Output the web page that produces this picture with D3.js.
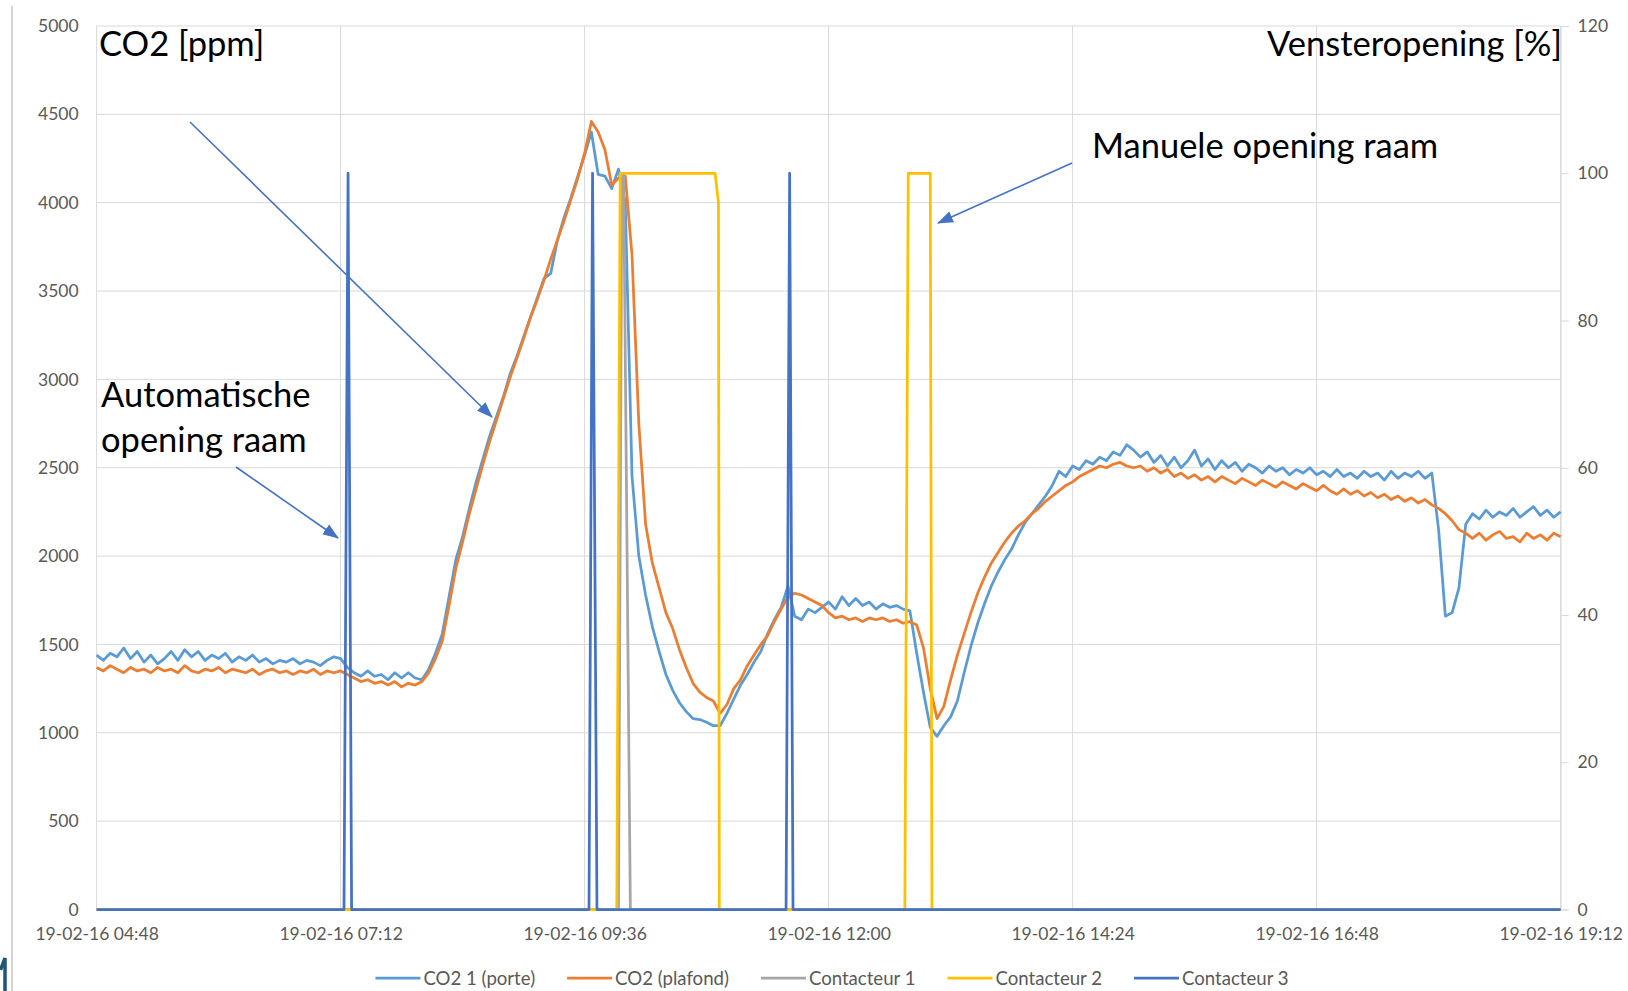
<!DOCTYPE html>
<html>
<head>
<meta charset="utf-8">
<script src="https://cdn.jsdelivr.net/npm/d3@7"></script>
<style>
  body { margin: 0; background: #fff; }
  svg { display: block; }
  text { font-family: Lato, "Open Sans", sans-serif; }
</style>
</head>
<body>
<svg id="chart"></svg>
<script>
// Logger samples, one every 4 minutes from 19-02-16 04:48.
let startTime = new Date(2016, 1, 19, 4, 48);
let sampleStepMin = 4;

// CO2 1 (porte), ppm
let co2Porte = [
    1440, 1410, 1450, 1430, 1480, 1420, 1460, 1400, 1440, 1390,
    1420, 1460, 1410, 1470, 1430, 1460, 1410, 1440, 1420, 1450,
    1400, 1430, 1410, 1440, 1400, 1420, 1390, 1410, 1400, 1420,
    1390, 1410, 1400, 1380, 1410, 1430, 1420, 1370, 1340, 1320,
    1350, 1320, 1330, 1300, 1340, 1310, 1340, 1310, 1300, 1360,
    1450, 1560, 1770, 1980, 2110, 2270, 2420, 2550, 2680, 2790,
    2900, 3030, 3130, 3240, 3350, 3460, 3570, 3600, 3790, 3920,
    4030, 4150, 4270, 4400, 4160, 4150, 4080, 4190, 4000, 2450,
    2000, 1780, 1600, 1460, 1330, 1240, 1170, 1120, 1080, 1075,
    1060, 1040, 1040, 1110, 1190, 1270, 1330, 1400, 1460, 1560,
    1640, 1710, 1830, 1660, 1640, 1700, 1680, 1710, 1740, 1700,
    1770, 1720, 1760, 1720, 1740, 1700, 1730, 1710, 1720, 1700,
    1690, 1450, 1230, 1030, 980, 1040, 1090, 1180, 1340, 1490,
    1620, 1730, 1830, 1910, 1980, 2040, 2120, 2190, 2240, 2290,
    2340, 2400, 2480, 2450, 2510, 2490, 2540, 2520, 2560, 2540,
    2590, 2570, 2630, 2600, 2560, 2590, 2530, 2570, 2510, 2560,
    2500, 2540, 2600, 2510, 2550, 2490, 2540, 2500, 2530, 2480,
    2520, 2500, 2470, 2510, 2480, 2500, 2460, 2490, 2470, 2500,
    2460, 2480, 2450, 2490, 2450, 2470, 2440, 2480, 2450, 2470,
    2430, 2480, 2440, 2470, 2450, 2480, 2440, 2470, 2150, 1660,
    1680, 1820, 2180, 2240, 2210, 2260, 2220, 2250, 2230, 2270,
    2220, 2250, 2280, 2230, 2260, 2220, 2250
];

// CO2 (plafond), ppm
let co2Plafond = [
    1370, 1350, 1380, 1360, 1340, 1370, 1350, 1360, 1340, 1370,
    1350, 1360, 1340, 1380, 1350, 1340, 1360, 1350, 1370, 1340,
    1360, 1350, 1340, 1360, 1330, 1350, 1360, 1340, 1350, 1330,
    1350, 1340, 1360, 1330, 1350, 1340, 1350, 1330, 1310, 1290,
    1300, 1280, 1290, 1270, 1290, 1260, 1280, 1270, 1290, 1340,
    1420, 1520, 1720, 1930, 2080, 2240, 2380, 2520, 2650, 2770,
    2890, 3010, 3120, 3230, 3350, 3450, 3560, 3680, 3790, 3900,
    4020, 4140, 4280, 4460, 4400, 4300, 4100, 4140, 4150, 3700,
    2750, 2180, 1960, 1820, 1680, 1590, 1470, 1370, 1280, 1230,
    1200, 1180, 1110, 1160, 1250, 1300, 1380, 1440, 1500, 1550,
    1630, 1700, 1770, 1790, 1780, 1760, 1740, 1720, 1680, 1650,
    1660, 1640, 1650, 1630, 1650, 1640, 1650, 1630, 1640, 1620,
    1630, 1610, 1480, 1250, 1080, 1150, 1300, 1440, 1560, 1680,
    1790, 1880, 1960, 2020, 2080, 2130, 2170, 2200, 2240, 2270,
    2310, 2340, 2370, 2400, 2420, 2450, 2470, 2490, 2510, 2500,
    2520, 2530, 2510, 2500, 2510, 2480, 2500, 2470, 2490, 2450,
    2470, 2440, 2460, 2430, 2450, 2420, 2450, 2430, 2410, 2440,
    2420, 2400, 2430, 2410, 2390, 2420, 2400, 2380, 2410, 2390,
    2370, 2400, 2370, 2350, 2380, 2350, 2370, 2340, 2360, 2330,
    2350, 2320, 2340, 2310, 2330, 2300, 2320, 2290, 2270, 2240,
    2200, 2150, 2130, 2100, 2130, 2090, 2120, 2140, 2100, 2110,
    2080, 2130, 2100, 2120, 2090, 2130, 2110
];

// Window contacts, % opening (minutes after 04:48)
let contact1Min = [0, 308, 310, 311, 315, 864];
let contact1Pct = [0, 0, 100, 100, 0, 0];
let contact2Min = [0, 307, 309, 365, 367, 367.5, 477, 479, 492, 493, 864];
let contact2Pct = [0, 0, 100, 100, 96, 0, 0, 100, 100, 0, 0];
let contact3Min = [0, 146, 148.4, 150.5, 290.6, 292.7, 295.3, 406.9, 409, 411, 864];
let contact3Pct = [0, 0, 100, 0, 0, 100, 0, 0, 100, 0, 0];

let xTickMin = [0, 144, 288, 432, 576, 720, 864];
let co2Ticks = [0, 500, 1000, 1500, 2000, 2500, 3000, 3500, 4000, 4500, 5000];
let pctTicks = [0, 20, 40, 60, 80, 100, 120];

let seriesNames = ["CO2 1 (porte)", "CO2 (plafond)", "Contacteur 1", "Contacteur 2", "Contacteur 3"];
let seriesColors = ["#5B9BD5", "#ED7D31", "#A5A5A5", "#FFC000", "#4472C4"];

let width = 1628;
let height = 991;
let plot = {left: 96.6, right: 1560.6, top: 26, bottom: 909.5};
let gridColor = "#d9d9d9";
let labelColor = "#595959";
let lineWidth = 2.75;
let smallFont = "17.5px";
let legendFont = "18.6px";

function minToDate(m) {
    return new Date(+startTime + m * 60000);
}

let svg = d3.select("#chart")
    .attr("width", width)
    .attr("height", height)
    .attr("viewBox", [0, 0, width, height]);

let x = d3.scaleTime()
    .domain([minToDate(0), minToDate(864)])
    .range([plot.left, plot.right]);
let yLeft = d3.scaleLinear().domain([0, 5000]).range([plot.bottom, plot.top]);
let yRight = d3.scaleLinear().domain([0, 120]).range([plot.bottom, plot.top]);

// slide border on the left edge
svg.append("line")
    .attr("x1", 12).attr("x2", 12)
    .attr("y1", 6).attr("y2", height)
    .attr("stroke", "#d4d4d4")
    .attr("stroke-width", 2);
svg.append("path")
    .attr("d", "M0.5,970 L5,958 L5,991")
    .attr("fill", "none")
    .attr("stroke", "#1f5675")
    .attr("stroke-width", 3.5);

// gridlines
svg.append("g")
    .selectAll("line")
    .data(co2Ticks)
    .join("line")
    .attr("x1", plot.left).attr("x2", plot.right)
    .attr("y1", d => yLeft(d)).attr("y2", d => yLeft(d))
    .attr("stroke", gridColor);
svg.append("g")
    .selectAll("line")
    .data(xTickMin)
    .join("line")
    .attr("x1", d => x(minToDate(d))).attr("x2", d => x(minToDate(d)))
    .attr("y1", plot.top).attr("y2", plot.bottom)
    .attr("stroke", gridColor);

// axes
let leftAxis = svg.append("g")
    .attr("transform", `translate(${plot.left},0)`)
    .call(d3.axisLeft(yLeft).tickValues(co2Ticks).tickFormat(d3.format("d")).tickSize(0).tickPadding(18));
leftAxis.select(".domain").remove();

let rightAxis = svg.append("g")
    .attr("transform", `translate(${plot.right},0)`)
    .call(d3.axisRight(yRight).tickValues(pctTicks).tickSize(8).tickPadding(9));
rightAxis.select(".domain").attr("stroke", gridColor);
rightAxis.selectAll(".tick line").attr("stroke", gridColor);

let bottomAxis = svg.append("g")
    .attr("transform", `translate(0,${plot.bottom})`)
    .call(d3.axisBottom(x)
        .tickValues(xTickMin.map(minToDate))
        .tickFormat(d3.timeFormat("%d-%m-%y %H:%M"))
        .tickSize(0)
        .tickPadding(18));
bottomAxis.select(".domain").remove();

svg.selectAll(".tick text")
    .attr("fill", labelColor)
    .style("font-size", smallFont)
    .style("font-family", "Lato, sans-serif");

// series
let co2Line = d3.line()
    .x((d, i) => x(minToDate(i * sampleStepMin)))
    .y(d => yLeft(d));
let pctLine = d3.line()
    .x(d => x(minToDate(d[0])))
    .y(d => yRight(d[1]));

let lines = svg.append("g")
    .attr("fill", "none")
    .attr("stroke-width", lineWidth)
    .attr("stroke-linejoin", "round");

lines.append("path").attr("d", co2Line(co2Porte)).attr("stroke", seriesColors[0]);
lines.append("path").attr("d", co2Line(co2Plafond)).attr("stroke", seriesColors[1]);
lines.append("path").attr("d", pctLine(d3.zip(contact1Min, contact1Pct))).attr("stroke", seriesColors[2]);
lines.append("path").attr("d", pctLine(d3.zip(contact2Min, contact2Pct))).attr("stroke", seriesColors[3]);
lines.append("path").attr("d", pctLine(d3.zip(contact3Min, contact3Pct))).attr("stroke", seriesColors[4]);

// legend
let legend = svg.append("g").attr("transform", "translate(0,978)");
let legendX = 0;
seriesNames.forEach((name, i) => {
    let item = legend.append("g").attr("transform", `translate(${legendX},0)`);
    item.append("line")
        .attr("x1", 0).attr("x2", 45)
        .attr("stroke", seriesColors[i])
        .attr("stroke-width", lineWidth);
    let t = item.append("text")
        .attr("x", 48)
        .attr("dy", "0.35em")
        .attr("fill", labelColor)
        .style("font-size", legendFont)
        .text(name);
    legendX += 48 + t.node().getComputedTextLength() + 32;
});
legendX -= 32;
legend.attr("transform", `translate(${832 - legendX / 2},978)`);

// annotations
svg.append("defs").append("marker")
    .attr("id", "arrow")
    .attr("markerUnits", "userSpaceOnUse")
    .attr("viewBox", "0 -7 16 14")
    .attr("refX", 15)
    .attr("refY", 0)
    .attr("markerWidth", 16)
    .attr("markerHeight", 14)
    .attr("orient", "auto")
    .append("path")
    .attr("d", "M0,-6L16,0L0,6Z")
    .attr("fill", "#4472C4");

let arrows = [
    [190, 122, 492, 417],
    [236, 467, 338, 538],
    [1072, 163, 938, 223]
];
svg.append("g")
    .selectAll("line")
    .data(arrows)
    .join("line")
    .attr("x1", d => d[0]).attr("y1", d => d[1])
    .attr("x2", d => d[2]).attr("y2", d => d[3])
    .attr("stroke", "#4472C4")
    .attr("stroke-width", 1.6)
    .attr("marker-end", "url(#arrow)");

let notes = [
    {text: "CO2 [ppm]", x: 99, y: 56, anchor: "start"},
    {text: "Vensteropening [%]", x: 1562, y: 56, anchor: "end"},
    {text: "Manuele opening raam", x: 1092, y: 158, anchor: "start"},
    {text: "Automatische", x: 101, y: 407, anchor: "start"},
    {text: "opening raam", x: 101, y: 452, anchor: "start"}
];
svg.append("g")
    .selectAll("text")
    .data(notes)
    .join("text")
    .attr("x", d => d.x)
    .attr("y", d => d.y)
    .attr("text-anchor", d => d.anchor)
    .attr("fill", "#000")
    .style("font-size", "34.5px")
    .text(d => d.text);
</script>
</body>
</html>
